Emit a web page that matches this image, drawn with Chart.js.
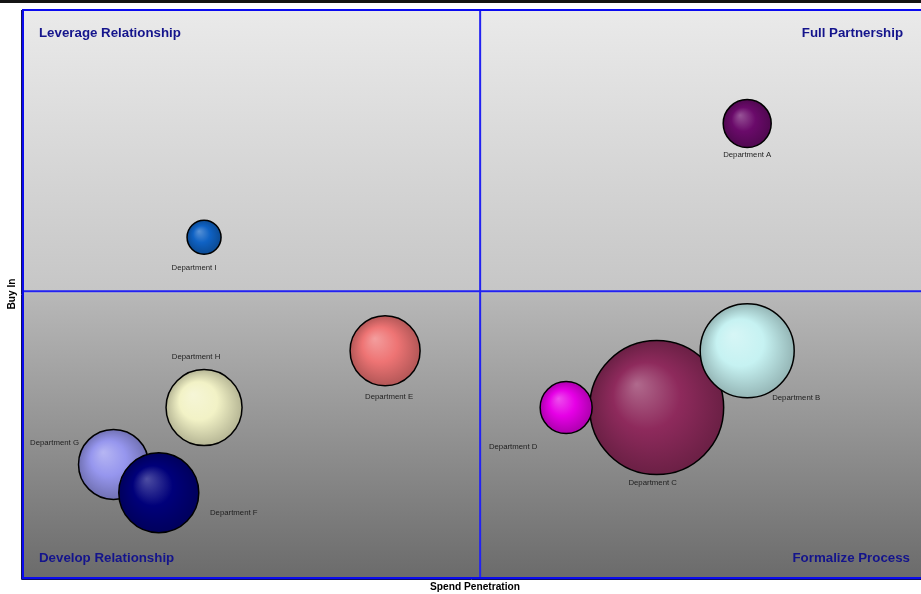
<!DOCTYPE html>
<html lang="en">
<head>
    <meta charset="UTF-8">
    <title>Spend Penetration vs Buy In</title>
    <style>
        body {
            margin: 0;
            background: #ffffff;
            font-family: "Liberation Sans", Arial, sans-serif;
            overflow: hidden;
        }

        .wrap {
            position: relative;
            width: 921px;
            height: 594px;
        }
    </style>
</head>
<body>
    <div class="wrap">
        <canvas id="quadChart"></canvas>
    </div>

    <script src="https://cdn.jsdelivr.net/npm/chart.js"></script>
    <script>
        // data (drawn in this order, later ones on top)
        const departments = ['Department C', 'Department B', 'Department D', 'Department A',
                             'Department I', 'Department E', 'Department H', 'Department G', 'Department F'];
        const spendPenetration = [70, 80, 60, 80, 20, 40, 20, 10, 15];
        const buyIn = [30, 40, 30, 80, 60, 40, 30, 20, 15];
        const bubbleSize = [67, 47, 26, 24, 17, 35, 38, 35, 40];

        const quadrantNames = ['Leverage Relationship', 'Full Partnership', 'Develop Relationship', 'Formalize Process'];
        const xAxisTitle = 'Spend Penetration';
        const yAxisTitle = 'Buy In';

        // styling
        const bubbleColors = ['#8e2a5c', '#c6f2f2', '#e600e6', '#6a0a6a',
                              '#0f62c4', '#ee7474', '#f2f2c6', '#9696ee', '#00007a'];
        // label position relative to bubble centre (px)
        const labelShift = [[-4, 75], [49, 47], [-53, 39], [0, 31], [-10, 31], [4, 46], [-8, -51], [-59, -22], [75, 20]];
        const midLine = 50.5;

        function shade(hex, amt) {
            let r = parseInt(hex.slice(1, 3), 16);
            let g = parseInt(hex.slice(3, 5), 16);
            let b = parseInt(hex.slice(5, 7), 16);
            if (amt > 0) {
                r = r + (255 - r) * amt; g = g + (255 - g) * amt; b = b + (255 - b) * amt;
            } else {
                r = r * (1 + amt); g = g * (1 + amt); b = b * (1 + amt);
            }
            return `rgb(${Math.round(r)}, ${Math.round(g)}, ${Math.round(b)})`;
        }

        function bubbleFill(ctx) {
            const base = bubbleColors[ctx.dataIndex] || '#888888';
            const chart = ctx.chart;
            if (ctx.type !== 'data' || !chart.chartArea || !ctx.raw) return base;
            const cx = chart.scales.x.getPixelForValue(ctx.raw.x);
            const cy = chart.scales.y.getPixelForValue(ctx.raw.y);
            const r = ctx.raw.r;
            const g = chart.ctx.createRadialGradient(cx - r * 0.3, cy - r * 0.35, 0, cx, cy, r);
            g.addColorStop(0, shade(base, 0.3));
            g.addColorStop(0.5, base);
            g.addColorStop(1, shade(base, -0.25));
            return g;
        }

        const points = departments.map((d, i) => ({ x: spendPenetration[i], y: buyIn[i], r: bubbleSize[i] }));

        // background, frame, quadrant titles, axis titles
        const quadrantPlugin = {
            id: 'quadrants',
            beforeDatasetsDraw(chart) {
                const { ctx, chartArea: a, scales } = chart;
                ctx.save();
                const bg = ctx.createLinearGradient(0, a.top, 0, a.bottom);
                bg.addColorStop(0, '#eaeaea');
                bg.addColorStop(0.497, '#c6c6c6');
                bg.addColorStop(0.5, '#b8b8b8');
                bg.addColorStop(1, '#6b6b6b');
                ctx.fillStyle = bg;
                ctx.fillRect(a.left, a.top, a.right - a.left, a.bottom - a.top);

                // top black strip
                ctx.fillStyle = '#141414';
                ctx.fillRect(0, 0, chart.width, 3);

                const mx = scales.x.getPixelForValue(midLine);
                const my = scales.y.getPixelForValue(midLine);
                ctx.strokeStyle = '#2222f2';
                ctx.lineWidth = 2;
                ctx.beginPath();
                ctx.moveTo(mx, a.top); ctx.lineTo(mx, a.bottom);
                ctx.moveTo(a.left, my); ctx.lineTo(a.right, my);
                ctx.stroke();

                ctx.strokeStyle = '#0a0af0';
                ctx.beginPath();
                ctx.moveTo(a.right + 2, a.top); ctx.lineTo(a.left, a.top);
                ctx.lineTo(a.left, a.bottom); ctx.lineTo(a.right + 2, a.bottom);
                ctx.stroke();
                ctx.strokeStyle = '#10105a';
                ctx.lineWidth = 1;
                ctx.beginPath();
                ctx.moveTo(a.left - 1.5, a.top); ctx.lineTo(a.left - 1.5, a.bottom + 1.5);
                ctx.lineTo(a.right + 2, a.bottom + 1.5);
                ctx.stroke();

                ctx.fillStyle = '#14148c';
                ctx.font = 'bold 13.3px "Liberation Sans", Arial, sans-serif';
                ctx.textBaseline = 'middle';
                ctx.textAlign = 'left';
                ctx.fillText(quadrantNames[0], a.left + 16, a.top + 23);
                ctx.fillText(quadrantNames[2], a.left + 16, a.bottom - 20);
                ctx.textAlign = 'right';
                ctx.fillText(quadrantNames[1], a.right - 18, a.top + 23);
                ctx.fillText(quadrantNames[3], a.right - 11, a.bottom - 20);

                ctx.fillStyle = '#000000';
                ctx.font = 'bold 10.2px "Liberation Sans", Arial, sans-serif';
                ctx.textAlign = 'center';
                ctx.fillText(xAxisTitle, 475, a.bottom + 9);
                ctx.translate(12, (a.top + a.bottom) / 2);
                ctx.rotate(-Math.PI / 2);
                ctx.fillText(yAxisTitle, 0, 0);
                ctx.restore();
            },
            afterDatasetsDraw(chart) {
                const { ctx } = chart;
                const meta = chart.getDatasetMeta(0);
                ctx.save();
                ctx.fillStyle = '#1e1e1e';
                ctx.font = '7.8px "Liberation Sans", Arial, sans-serif';
                ctx.textAlign = 'center';
                ctx.textBaseline = 'middle';
                meta.data.forEach((el, i) => {
                    const s = labelShift[i];
                    ctx.fillText(departments[i], el.x + s[0], el.y + s[1]);
                });
                ctx.restore();
            }
        };

        new Chart(document.getElementById('quadChart'), {
            type: 'bubble',
            data: {
                datasets: [{
                    label: 'Departments',
                    data: points,
                    backgroundColor: bubbleFill,
                    borderColor: '#000000',
                    borderWidth: 1.5
                }]
            },
            options: {
                responsive: true,
                maintainAspectRatio: false,
                animation: false,
                events: [],
                layout: { autoPadding: false, padding: { left: 23, top: 10, right: 0, bottom: 16 } },
                plugins: {
                    legend: { display: false },
                    tooltip: { enabled: false }
                },
                scales: {
                    x: { display: false, min: 0, max: 99.2 },
                    y: { display: false, min: 0, max: 100 }
                }
            },
            plugins: [quadrantPlugin]
        });
    </script>
</body>
</html>
